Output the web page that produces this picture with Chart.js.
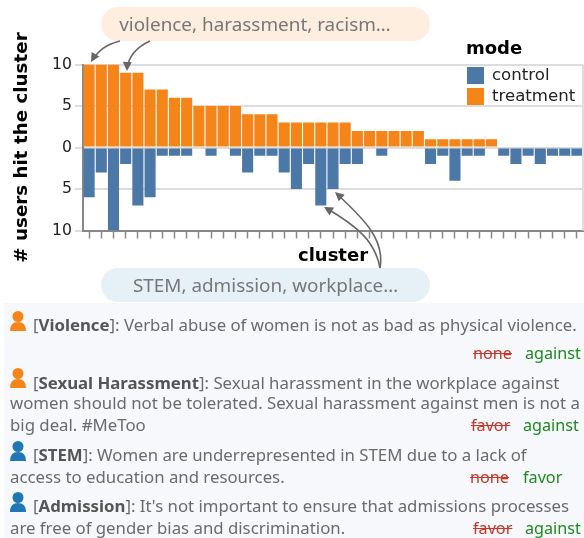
<!DOCTYPE html>
<html>
<head>
<meta charset="utf-8">
<script src="https://cdn.jsdelivr.net/npm/chart.js@4"></script>
<style>
  html, body { margin: 0; padding: 0; background: #fff; }
  #page { position: relative; width: 584px; height: 538px; overflow: hidden; font-family: "Noto Sans", sans-serif; }
  #myChart { position: absolute; left: 0; top: 0; }
  .pill { position: absolute; left: 101px; width: 329px; height: 34px; line-height: 34px; border-radius: 17px; text-align: center; font-size: 18.9px; color: #777; box-sizing: border-box; }
  #panel { position: absolute; left: 4px; top: 303px; width: 580px; height: 235px; background: #f6f8fb; }
  .line { position: absolute; white-space: nowrap; font-size: 16.8px; line-height: 20px; color: #6b6b6b; }
  .line b { color: #555; }
  .old { position: absolute; text-decoration: line-through; color: #c0392b; font-size: 16.2px; line-height: 20px; }
  .new { position: absolute; color: #1f8a1f; font-size: 16.2px; line-height: 20px; }
  #legend { position: absolute; left: 466px; top: 38px; font-family: "DejaVu Sans"; color: #222; font-size: 16.6px; }
  #legend b { display: block; font-size: 18px; line-height: 20px; color: #000; position: absolute; top: 0; left: 0; }
  .key { position: absolute; left: 1px; width: 17px; height: 17px; }
  .keytext { position: absolute; left: 26px; line-height: 17px; white-space: nowrap; margin-top: -1px; }
  svg { position: absolute; left: 0; top: 0; }
</style>
</head>
<body>
<div id="page">
  <canvas id="myChart" width="584" height="270"></canvas>
  <div class="pill" id="pillTop" style="top:7px;background:#fdeee0;padding-right:21px"></div>
  <div class="pill" id="pillBottom" style="top:268px;background:#e5f0f7"></div>
  <div id="legend"></div>
  <div id="panel"></div>
  <svg id="overlay" width="584" height="538"></svg>
</div>
<script>
var clusters = [1,2,3,4,5,6,7,8,9,10,11,12,13,14,15,16,17,18,19,20,21,22,23,24,25,26,27,28,29,30,31,32,33,34,35,36,37,38,39,40,41];
var treatment = [10,10,10,9,9,7,7,6,6,5,5,5,5,4,4,4,3,3,3,3,3,3,2,2,2,2,2,2,1,1,1,1,1,1,0,0,0,0,0,0,0];
var control = [6,3,10,2,7,6,1,1,1,0,1,0,1,3,1,1,3,5,2,7,5,2,2,0,1,0,0,0,2,1,4,1,1,0,1,2,1,2,1,1,1];
var yTicks = [-10,-5,0,5,10];
var modeNames = ['control','treatment'];
var modeColors = ['#4c78a8','#f58518'];
var topLabel = 'violence, harassment, racism\u2026';
var bottomLabel = 'STEM, admission, workplace\u2026';

// one row per text line: top, left, html
var textLines = [
    [12, 33, '[<b>Violence</b>]: Verbal abuse of women is not as bad as physical violence.'],
    [70, 33, '[<b>Sexual Harassment</b>]: Sexual harassment in the workplace against'],
    [90, 10, 'women should not be tolerated. Sexual harassment against men is not a'],
    [112, 10, 'big deal. #MeToo'],
    [142, 33, '[<b>STEM</b>]: Women are underrepresented in STEM due to a lack of'],
    [164, 10, 'access to education and resources.'],
    [193, 33, '[<b>Admission</b>]: It\'s not important to ensure that admissions processes'],
    [215, 10, 'are free of gender bias and discrimination.']
];
// top, old stance, its left, new stance, its left
var stances = [
    [40, 'none', 469, 'against', 521],
    [112, 'favor', 467, 'against', 519],
    [164, 'none', 466, 'favor', 519],
    [215, 'favor', 469, 'against', 521]
];
// icon top, color
var people = [[311,'#f58518'],[368,'#f58518'],[441,'#1f77b4'],[492,'#1f77b4']];
// arrows: svg path, then arrow head tip and its direction
var arrows = [
    ['M120 41 Q100 46 93 60', 91, 62, 120],
    ['M150 41 Q130 50 127 68', 127, 71, 92],
    ['M380 268 C375 240 355 225 326 208', 324, 207, 210],
    ['M380 268 C385 240 365 220 337 194', 335, 192, 222]
];

document.getElementById('pillTop').textContent = topLabel;
document.getElementById('pillBottom').textContent = bottomLabel;

var legendHtml = '<b>mode</b>';
modeNames.forEach(function (name, i) {
    var y = 29 + i * 21;
    legendHtml += '<div class="key" style="top:' + y + 'px;background:' + modeColors[i] + '"></div>';
    legendHtml += '<div class="keytext" style="top:' + y + 'px">' + name + '</div>';
});
document.getElementById('legend').innerHTML = legendHtml;

var panelHtml = '';
textLines.forEach(function (l) {
    panelHtml += '<div class="line" style="top:' + l[0] + 'px;left:' + (l[1] - 4) + 'px">' + l[2] + '</div>';
});
stances.forEach(function (s) {
    panelHtml += '<div class="old" style="top:' + s[0] + 'px;left:' + s[2] + 'px">' + s[1] + '</div>';
    panelHtml += '<div class="new" style="top:' + s[0] + 'px;left:' + s[4] + 'px">' + s[3] + '</div>';
});
document.getElementById('panel').innerHTML = panelHtml;

var svg = '';
people.forEach(function (p) {
    var t = p[0];
    svg += '<circle cx="18" cy="' + (t + 5.5) + '" r="5.5" fill="' + p[1] + '"/>';
    svg += '<path d="M10 ' + (t + 20) + ' Q10 ' + (t + 11) + ' 18 ' + (t + 11) + ' Q26 ' + (t + 11) + ' 26 ' + (t + 20) + ' Z" fill="' + p[1] + '"/>';
});
arrows.forEach(function (a) {
    svg += '<path d="' + a[0] + '" fill="none" stroke="#666" stroke-width="1.6"/>';
    svg += '<polygon points="0,0 -9,-4.5 -9,4.5" fill="#666" transform="translate(' + a[1] + ' ' + a[2] + ') rotate(' + a[3] + ')"/>';
});
document.getElementById('overlay').innerHTML = svg;

var frame = {
    id: 'frame',
    afterDatasetsDraw: function (chart) {
        var c = chart.ctx, a = chart.chartArea;
        c.save();
        c.strokeStyle = '#ddd';
        c.lineWidth = 2;
        c.beginPath();
        c.moveTo(a.right, a.top);
        c.lineTo(a.right, a.bottom);
        c.stroke();
        c.restore();
    }
};

var ctx = document.getElementById('myChart').getContext('2d');
var myChart = new Chart(ctx, {
    type: 'bar',
    data: {
        labels: clusters,
        datasets: [
            { label: modeNames[0], data: control.map(function (v) { return -v; }), backgroundColor: modeColors[0] },
            { label: modeNames[1], data: treatment, backgroundColor: modeColors[1] }
        ]
    },
    options: {
        responsive: false,
        animation: false,
        datasets: { bar: { barPercentage: 1, categoryPercentage: 0.91 } },
        layout: { padding: { top: 64.5, right: 1, left: 0, bottom: 0 } },
        plugins: { legend: { display: false }, tooltip: { enabled: false } },
        scales: {
            x: {
                stacked: true,
                afterFit: function (s) { s.height = 39.5; },
                border: { color: '#888', width: 2 },
                grid: { drawOnChartArea: false, offset: false, tickColor: '#888', tickLength: 8, tickWidth: 1.5 },
                ticks: { display: false, autoSkip: false },
                title: { display: true, text: 'cluster', color: '#000', font: { family: 'DejaVu Sans', size: 18, weight: 'bold' }, padding: { top: 0, bottom: 3 } }
            },
            y: {
                stacked: true,
                min: -10,
                max: 10,
                afterFit: function (s) { s.width = 83; },
                afterBuildTicks: function (s) { s.ticks = yTicks.map(function (v) { return { value: v }; }); },
                border: { color: '#888', width: 2 },
                grid: { color: '#ddd', lineWidth: 2, tickColor: '#ddd', tickLength: 8 },
                ticks: {
                    color: '#222',
                    padding: 3,
                    font: { family: 'DejaVu Sans', size: 15.7 },
                    callback: function (v) { return Math.abs(v); }
                },
                title: { display: true, text: '# users hit the cluster', color: '#000', font: { family: 'DejaVu Sans', size: 18.3, weight: 'bold' }, padding: { top: 11, bottom: 0 } }
            }
        }
    },
    plugins: [frame]
});
</script>
</body>
</html>
